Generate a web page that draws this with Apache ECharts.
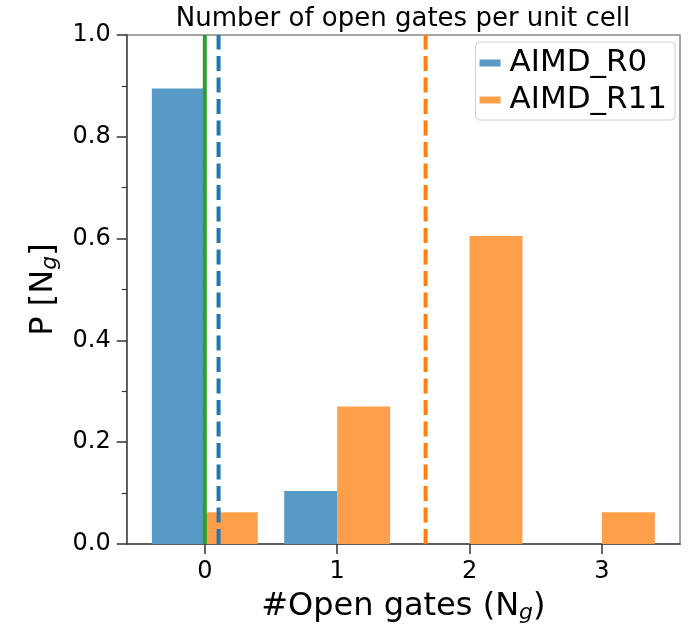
<!DOCTYPE html>
<html>
<head>
<meta charset="utf-8">
<script src="https://cdn.jsdelivr.net/npm/echarts@6/dist/echarts.min.js"></script>
<style>
  html, body { margin: 0; padding: 0; background: #fff; }
  #chart { width: 690px; height: 624px; }
</style>
</head>
<body>
<div id="chart"></div>
<script>
// Number of open gates per unit cell (N_g) and their probabilities
const gateCounts = [0, 1, 2, 3];
const probR0 = [0.895, 0.104, 0, 0];
const probR11 = [0.0625, 0.27, 0.605, 0.0625];

// Vertical reference lines: reference count, mean of R0, mean of R11
const refGates = 0;
const meanR0 = 0.104;
const meanR11 = 1.668;

const FONT = 'DejaVu Sans';
const BAR_W = 0.4;
const X_MIN = -0.59, X_MAX = 3.59;
const Y_MIN = 0, Y_MAX = 1, Y_STEP = 0.2;

function barRenderer(offset) {
  return function (params, api) {
    const x = api.value(0);
    const v = api.value(1);
    if (!v) return null;
    const p0 = api.coord([x + offset, v]);
    const p1 = api.coord([x + offset + BAR_W, 0]);
    return {
      type: 'rect',
      shape: { x: p0[0], y: p0[1], width: p1[0] - p0[0], height: p1[1] - p0[1] },
      style: { fill: api.visual('color') }
    };
  };
}

const lineStyles = [
  { stroke: '#2ca02c', lineWidth: 4, lineDash: null },
  { stroke: '#1f77b4', lineWidth: 4, lineDash: [15, 6.5] },
  { stroke: '#ff7f0e', lineWidth: 4, lineDash: [15, 6.5] }
];

function vlineRenderer(params, api) {
  const x = api.value(0);
  const a = api.coord([x, Y_MIN]);
  const b = api.coord([x, Y_MAX]);
  const s = lineStyles[params.dataIndex];
  return {
    type: 'line',
    shape: { x1: a[0], y1: a[1], x2: b[0], y2: b[1] },
    style: { stroke: s.stroke, lineWidth: s.lineWidth, lineDash: s.lineDash, fill: null }
  };
}

const chart = echarts.init(document.getElementById('chart'), null, { renderer: 'canvas' });

const subRich = {
  n: { fontFamily: FONT, fontSize: 32, color: '#000', lineHeight: 38 },
  g: { fontFamily: FONT, fontSize: 22, fontStyle: 'italic', color: '#000', lineHeight: 22, padding: [13, 0, 0, 0] }
};

const tickLine = { color: '#333', width: 1.5 };

chart.setOption({
  animation: false,
  backgroundColor: '#fff',
  title: {
    text: 'Number of open gates per unit cell',
    left: 403,
    textAlign: 'center',
    top: 6,
    padding: 0,
    textStyle: { fontFamily: FONT, fontSize: 26, fontWeight: 'normal', color: '#000' }
  },
  legend: {
    orient: 'vertical',
    right: 15,
    top: 42,
    data: ['AIMD_R0', 'AIMD_R11'],
    icon: 'rect',
    itemWidth: 21,
    itemHeight: 7,
    itemGap: 5,
    padding: [5, 8, 4, 4],
    backgroundColor: '#fff',
    borderColor: '#d0d0d0',
    borderWidth: 1,
    borderRadius: 4,
    textStyle: { fontFamily: FONT, fontSize: 31, color: '#000', lineHeight: 32, padding: [0, 0, 0, 4] }
  },
  grid: {
    left: 126.7, top: 35, right: 10, bottom: 80,
    outerBoundsMode: 'none',
    containLabel: false,
    show: true, borderColor: '#888', borderWidth: 1.5, backgroundColor: 'transparent'
  },
  xAxis: {
    type: 'value',
    min: X_MIN,
    max: X_MAX,
    name: '{n|#Open gates (N}{g|g}{n|)}',
    nameLocation: 'middle',
    nameGap: 41,
    nameTextStyle: { rich: subRich },
    axisLine: { show: true, onZero: false, lineStyle: { color: '#444', width: 1.5 } },
    axisTick: { show: true, inside: false, length: 10, customValues: gateCounts, lineStyle: tickLine },
    axisLabel: { customValues: gateCounts, fontFamily: FONT, fontSize: 24, color: '#000', margin: 16 },
    splitLine: { show: false }
  },
  yAxis: {
    type: 'value',
    min: Y_MIN,
    max: Y_MAX,
    interval: Y_STEP,
    name: '{n|P [N}{g|g}{n|]}',
    nameLocation: 'middle',
    nameGap: 62,
    nameRotate: 90,
    nameTextStyle: { rich: subRich },
    axisLine: { show: true, onZero: false, lineStyle: { color: '#444', width: 1.5 } },
    axisTick: { show: true, inside: false, length: 10, lineStyle: tickLine },
    minorTick: { show: true, splitNumber: 2, length: 5, lineStyle: { color: '#333', width: 1.2 } },
    axisLabel: {
      fontFamily: FONT, fontSize: 24, color: '#000', margin: 16,
      formatter: v => v.toFixed(1)
    },
    splitLine: { show: false },
    minorSplitLine: { show: false }
  },
  series: [
    {
      name: 'AIMD_R0',
      type: 'custom',
      itemStyle: { color: '#5799c7' },
      encode: { x: 0, y: 1 },
      data: gateCounts.map((g, i) => [g, probR0[i]]),
      renderItem: barRenderer(-BAR_W),
      z: 2
    },
    {
      name: 'AIMD_R11',
      type: 'custom',
      itemStyle: { color: '#ff9f4a' },
      encode: { x: 0, y: 1 },
      data: gateCounts.map((g, i) => [g, probR11[i]]),
      renderItem: barRenderer(0),
      z: 2
    },
    {
      name: 'refs',
      type: 'custom',
      encode: { x: 0 },
      data: [[refGates], [meanR0], [meanR11]],
      renderItem: vlineRenderer,
      z: 3
    }
  ]
});
</script>
</body>
</html>
